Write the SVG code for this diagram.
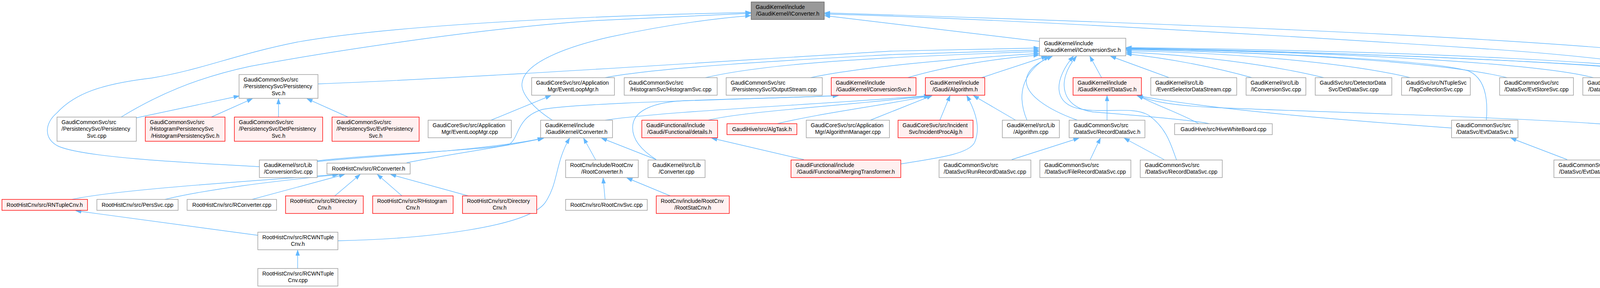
<svg xmlns="http://www.w3.org/2000/svg" width="4557" height="738" viewBox="0 0 4557 738">
<style>
rect{stroke-width:1.4}
.n rect{fill:#ffffff;stroke:#999999}
.r rect{fill:#FFF0F0;stroke:#FF0000}
.root rect{fill:#999999;stroke:#666666}
text{font-family:"Liberation Sans",Arial,sans-serif;font-size:14px;fill:#000000}
.m{text-anchor:middle}
#edges path{fill:none;stroke:#63B8FF;stroke-width:1.4;marker-end:url(#ah)}
</style>
<defs>
<marker id="ah" markerUnits="userSpaceOnUse" markerWidth="15" markerHeight="11" refX="14" refY="5" orient="auto" viewBox="0 0 15 11">
<path d="M0,0 L14,5 L0,10 z" fill="#63B8FF" stroke="#63B8FF" stroke-width="1"/>
</marker>
</defs>
<rect x="0" y="0" width="4557" height="738" fill="#ffffff"/>
<g id="edges">
<path d="M2661,106 L2111,40"/>
<path d="M4391,199 C4330,178 4100,145 3800,125 S2600,48 2111,36"/>
<path d="M4304,322 C4400,305 4555,270 4555,225 C4555,195 4540,185 4500,172 C4300,120 3500,75 2111,33"/>
<path d="M664,427 C500,418 220,405 150,375 C110,355 115,315 145,290 C190,240 260,215 388,200 C520,178 600,140 760,108 C1000,65 1500,40 1922,32"/>
<path d="M310,300 C400,245 500,200 640,170 C800,140 1200,75 1520,53 L1922,34"/>
<path d="M1414,308 C1370,280 1330,240 1337,210 C1345,160 1450,120 1560,95 C1700,65 1820,48 1922,40"/>
<path d="M814,215 C1200,200 1800,160 2280,131 L2660,123"/>
<path d="M1549,199 C1700,170 2100,150 2280,140 L2660,128"/>
<path d="M1806,199 C1950,165 2200,148 2660,132"/>
<path d="M2075,199 C2200,172 2450,150 2660,137"/>
<path d="M2324,199 C2420,170 2550,150 2660,141"/>
<path d="M2513,199 L2680,144"/>
<path d="M2629,308 C2605,250 2610,190 2686,144"/>
<path d="M2758,308 C2680,280 2620,240 2628,200 C2635,170 2670,155 2694,144"/>
<path d="M3012,410 C3000,380 2990,330 2940,295 C2900,272 2830,290 2770,280 C2690,268 2700,200 2748,144"/>
<path d="M3096,317 C3060,308 2900,295 2800,287 C2720,278 2700,210 2756,144"/>
<path d="M2820,199 L2790,144"/>
<path d="M2993,199 L2843,144"/>
<path d="M3205,199 C3120,175 3000,150 2883,138"/>
<path d="M3389,199 C3250,165 3050,140 2883,134"/>
<path d="M3610,199 C3450,160 3150,135 2883,130"/>
<path d="M3858,199 C3700,160 3300,135 2883,127"/>
<path d="M4079,199 C3950,165 3500,135 2883,125"/>
<path d="M4391,199 C4250,160 3600,130 2883,122"/>
<path d="M3805,308 C3810,250 3800,200 3760,182 C3650,150 3200,135 2883,126"/>
<path d="M4246,308 C4280,260 4290,205 4262,190 C4200,165 3500,135 2883,124"/>
<path d="M4165,416 C4250,395 4330,360 4343,300 C4350,250 4330,205 4290,190 C4200,165 3500,135 2883,123"/>
<path d="M349,302 L612,246"/>
<path d="M541,300 L646,253"/>
<path d="M713,300 L713,253"/>
<path d="M891,300 L786,253"/>
<path d="M1257,308 L1410,245"/>
<path d="M812,412 C950,395 1250,385 1303,370 C1330,355 1320,300 1390,280 C1500,262 1900,255 2146,245"/>
<path d="M1680,409 C1650,390 1615,360 1620,320 C1625,280 1680,262 1750,258 C1900,252 2050,250 2146,245"/>
<path d="M1549,308 C1700,285 2100,268 2379,245"/>
<path d="M1813,308 C1900,285 2200,268 2380,245"/>
<path d="M1990,317 C2100,290 2250,272 2382,245"/>
<path d="M2228,308 L2386,245"/>
<path d="M2406,308 L2432,245"/>
<path d="M2306,420 C2400,405 2480,395 2495,365 C2510,330 2500,290 2475,245"/>
<path d="M2600,308 L2492,245"/>
<path d="M2058,409 L1822,354"/>
<path d="M2834,308 L2834,245"/>
<path d="M4157,322 C3900,300 3300,285 3100,275 C3000,270 2950,260 2911,245"/>
<path d="M3716,328 C3400,305 3100,280 2911,245"/>
<path d="M3069,317 C3020,290 2960,270 2913,245"/>
<path d="M2590,409 L2762,354"/>
<path d="M2791,409 L2817,354"/>
<path d="M2980,409 L2878,354"/>
<path d="M4012,409 L3868,354"/>
<path d="M1041,417 C1150,395 1300,375 1392,354"/>
<path d="M812,414 C950,400 1250,385 1390,354"/>
<path d="M865,617 C1100,612 1350,580 1395,520 C1430,470 1420,420 1458,354"/>
<path d="M1525,410 L1494,354"/>
<path d="M1680,409 L1540,354"/>
<path d="M184,511 C300,485 700,460 865,447"/>
<path d="M422,511 C550,480 750,460 867,447"/>
<path d="M645,511 L882,447"/>
<path d="M857,502 L922,447"/>
<path d="M1029,502 L966,447"/>
<path d="M1199,502 L1000,447"/>
<path d="M660,603 L194,540"/>
<path d="M762,688 L762,641"/>
<path d="M1549,511 L1544,456"/>
<path d="M1716,502 L1605,456"/>
</g>
<g id="n1" class="root"><rect x="1923" y="5" width="187" height="45"/><text x="1934.5" y="23">GaudiKernel/include</text><text class="m" x="2016.5" y="40">/GaudiKernel/IConverter.h</text></g>
<g id="n2" class="n"><rect x="2661" y="98" width="221" height="45"/><text x="2672.5" y="116">GaudiKernel/include</text><text class="m" x="2771.5" y="133">/GaudiKernel/IConversionSvc.h</text></g>
<g id="n3" class="n"><rect x="612" y="191" width="202" height="61"/><text x="623.5" y="209">GaudiCommonSvc/src</text><text x="623.5" y="226">/PersistencySvc/Persistency</text><text class="m" x="713" y="243.5">Svc.h</text></g>
<g id="n4" class="n"><rect x="1361" y="199" width="212" height="45"/><text x="1372.5" y="217">GaudiCoreSvc/src/Application</text><text class="m" x="1467" y="234">Mgr/EventLoopMgr.h</text></g>
<g id="n5" class="n"><rect x="1598" y="199" width="238" height="45"/><text x="1609.5" y="217">GaudiCommonSvc/src</text><text class="m" x="1717" y="234">/HistogramSvc/HistogramSvc.cpp</text></g>
<g id="n6" class="n"><rect x="1859" y="199" width="246" height="45"/><text x="1870.5" y="217">GaudiCommonSvc/src</text><text class="m" x="1982" y="234">/PersistencySvc/OutputStream.cpp</text></g>
<g id="n7" class="r"><rect x="2128" y="199" width="217" height="45"/><text x="2139.5" y="217">GaudiKernel/include</text><text class="m" x="2236.5" y="234">/GaudiKernel/ConversionSvc.h</text></g>
<g id="n8" class="r"><rect x="2369" y="199" width="152" height="45"/><text x="2380.5" y="217">GaudiKernel/include</text><text class="m" x="2445" y="234">/Gaudi/Algorithm.h</text></g>
<g id="n9" class="r"><rect x="2747" y="199" width="175" height="45"/><text x="2758.5" y="217">GaudiKernel/include</text><text class="m" x="2834.5" y="234">/GaudiKernel/DataSvc.h</text></g>
<g id="n10" class="n"><rect x="2946" y="199" width="220" height="45"/><text x="2957.5" y="217">GaudiKernel/src/Lib</text><text class="m" x="3056" y="234">/EventSelectorDataStream.cpp</text></g>
<g id="n11" class="n"><rect x="3190" y="199" width="153" height="45"/><text x="3201.5" y="217">GaudiKernel/src/Lib</text><text class="m" x="3266.5" y="234">/IConversionSvc.cpp</text></g>
<g id="n12" class="n"><rect x="3367" y="199" width="196" height="45"/><text x="3378.5" y="217">GaudiSvc/src/DetectorData</text><text class="m" x="3465" y="234">Svc/DetDataSvc.cpp</text></g>
<g id="n13" class="n"><rect x="3588" y="199" width="176" height="45"/><text x="3599.5" y="217">GaudiSvc/src/NTupleSvc</text><text class="m" x="3676" y="234">/TagCollectionSvc.cpp</text></g>
<g id="n14" class="n"><rect x="3839" y="199" width="189" height="45"/><text x="3850.5" y="217">GaudiCommonSvc/src</text><text class="m" x="3933.5" y="234">/DataSvc/EvtStoreSvc.cpp</text></g>
<g id="n15" class="n"><rect x="4052" y="199" width="202" height="45"/><text x="4063.5" y="217">GaudiCommonSvc/src</text><text class="m" x="4153" y="234">/DataSvc/MultiStoreSvc.cpp</text></g>
<g id="n16" class="n"><rect x="4379" y="199" width="148" height="45"/><text x="4390.5" y="217">GaudiKernel/src/Lib</text><text class="m" x="4453" y="234">/TsDataSvc.cpp</text></g>
<g id="n17" class="n"><rect x="146" y="300" width="203" height="62"/><text x="157.5" y="318">GaudiCommonSvc/src</text><text x="157.5" y="335">/PersistencySvc/Persistency</text><text class="m" x="247.5" y="352.5">Svc.cpp</text></g>
<g id="n18" class="r"><rect x="372" y="300" width="204" height="62"/><text x="383.5" y="318">GaudiCommonSvc/src</text><text x="383.5" y="335">/HistogramPersistencySvc</text><text class="m" x="474" y="352.5">/HistogramPersistencySvc.h</text></g>
<g id="n19" class="r"><rect x="600" y="300" width="226" height="62"/><text x="611.5" y="318">GaudiCommonSvc/src</text><text x="611.5" y="335">/PersistencySvc/DetPersistency</text><text class="m" x="713" y="352.5">Svc.h</text></g>
<g id="n20" class="r"><rect x="850" y="300" width="223" height="62"/><text x="861.5" y="318">GaudiCommonSvc/src</text><text x="861.5" y="335">/PersistencySvc/EvtPersistency</text><text class="m" x="961.5" y="352.5">Svc.h</text></g>
<g id="n21" class="n"><rect x="1096" y="308" width="213" height="45"/><text x="1107.5" y="326">GaudiCoreSvc/src/Application</text><text class="m" x="1202.5" y="343">Mgr/EventLoopMgr.cpp</text></g>
<g id="n22" class="n"><rect x="1384" y="308" width="184" height="45"/><text x="1395.5" y="326">GaudiKernel/include</text><text class="m" x="1476" y="343">/GaudiKernel/Converter.h</text></g>
<g id="n23" class="r"><rect x="1643" y="308" width="194" height="45"/><text x="1654.5" y="326">GaudiFunctional/include</text><text class="m" x="1740" y="343">/Gaudi/Functional/details.h</text></g>
<g id="n24" class="r"><rect x="1861" y="317" width="179" height="28"/><text class="m" x="1950.5" y="335.5">GaudiHive/src/AlgTask.h</text></g>
<g id="n25" class="n"><rect x="2064" y="308" width="213" height="45"/><text x="2075.5" y="326">GaudiCoreSvc/src/Application</text><text class="m" x="2170.5" y="343">Mgr/AlgorithmManager.cpp</text></g>
<g id="n26" class="r"><rect x="2299" y="308" width="192" height="45"/><text x="2310.5" y="326">GaudiCoreSvc/src/Incident</text><text class="m" x="2395" y="343">Svc/IncidentProcAlg.h</text></g>
<g id="n27" class="n"><rect x="2566" y="308" width="146" height="45"/><text x="2577.5" y="326">GaudiKernel/src/Lib</text><text class="m" x="2639" y="343">/Algorithm.cpp</text></g>
<g id="n28" class="n"><rect x="2737" y="308" width="194" height="45"/><text x="2748.5" y="326">GaudiCommonSvc/src</text><text class="m" x="2834" y="343">/DataSvc/RecordDataSvc.h</text></g>
<g id="n29" class="n"><rect x="3007" y="317" width="250" height="28"/><text class="m" x="3132" y="335.5">GaudiHive/src/HiveWhiteBoard.cpp</text></g>
<g id="n30" class="n"><rect x="3716" y="308" width="170" height="45"/><text x="3727.5" y="326">GaudiCommonSvc/src</text><text class="m" x="3801" y="343">/DataSvc/EvtDataSvc.h</text></g>
<g id="n31" class="n"><rect x="4157" y="308" width="147" height="45"/><text x="4168.5" y="326">GaudiKernel/src/Lib</text><text class="m" x="4230.5" y="343">/DataSvc.cpp</text></g>
<g id="n32" class="n"><rect x="664" y="410" width="148" height="45"/><text x="675.5" y="428">GaudiKernel/src/Lib</text><text class="m" x="738" y="445">/ConversionSvc.cpp</text></g>
<g id="n33" class="n"><rect x="837" y="418" width="213" height="28"/><text class="m" x="943.5" y="436.5">RootHistCnv/src/RConverter.h</text></g>
<g id="n34" class="n"><rect x="1448" y="410" width="186" height="45"/><text x="1459.5" y="428">RootCnv/include/RootCnv</text><text class="m" x="1541" y="445">/RootConverter.h</text></g>
<g id="n35" class="n"><rect x="1659" y="410" width="146" height="45"/><text x="1670.5" y="428">GaudiKernel/src/Lib</text><text class="m" x="1732" y="445">/Converter.cpp</text></g>
<g id="n36" class="r"><rect x="2025" y="410" width="281" height="45"/><text x="2036.5" y="428">GaudiFunctional/include</text><text class="m" x="2165.5" y="445">/Gaudi/Functional/MergingTransformer.h</text></g>
<g id="n37" class="n"><rect x="2404" y="410" width="235" height="45"/><text x="2415.5" y="428">GaudiCommonSvc/src</text><text class="m" x="2521.5" y="445">/DataSvc/RunRecordDataSvc.cpp</text></g>
<g id="n38" class="n"><rect x="2662" y="410" width="233" height="45"/><text x="2673.5" y="428">GaudiCommonSvc/src</text><text class="m" x="2778.5" y="445">/DataSvc/FileRecordDataSvc.cpp</text></g>
<g id="n39" class="n"><rect x="2919" y="410" width="210" height="45"/><text x="2930.5" y="428">GaudiCommonSvc/src</text><text class="m" x="3024" y="445">/DataSvc/RecordDataSvc.cpp</text></g>
<g id="n40" class="n"><rect x="3978" y="410" width="187" height="45"/><text x="3989.5" y="428">GaudiCommonSvc/src</text><text class="m" x="4071.5" y="445">/DataSvc/EvtDataSvc.cpp</text></g>
<g id="n41" class="r"><rect x="5" y="511" width="219" height="28"/><text class="m" x="114.5" y="529.5">RootHistCnv/src/RNTupleCnv.h</text></g>
<g id="n42" class="n"><rect x="248" y="511" width="208" height="28"/><text class="m" x="352" y="529.5">RootHistCnv/src/PersSvc.cpp</text></g>
<g id="n43" class="n"><rect x="479" y="511" width="229" height="28"/><text class="m" x="593.5" y="529.5">RootHistCnv/src/RConverter.cpp</text></g>
<g id="n44" class="r"><rect x="731" y="502" width="199" height="45"/><text x="742.5" y="520">RootHistCnv/src/RDirectory</text><text class="m" x="830.5" y="537">Cnv.h</text></g>
<g id="n45" class="r"><rect x="954" y="502" width="206" height="45"/><text x="965.5" y="520">RootHistCnv/src/RHistogram</text><text class="m" x="1057" y="537">Cnv.h</text></g>
<g id="n46" class="r"><rect x="1184" y="502" width="190" height="45"/><text x="1195.5" y="520">RootHistCnv/src/Directory</text><text class="m" x="1279" y="537">Cnv.h</text></g>
<g id="n47" class="n"><rect x="1448" y="511" width="209" height="28"/><text class="m" x="1552.5" y="529.5">RootCnv/src/RootCnvSvc.cpp</text></g>
<g id="n48" class="r"><rect x="1680" y="502" width="187" height="45"/><text x="1691.5" y="520">RootCnv/include/RootCnv</text><text class="m" x="1773.5" y="537">/RootStatCnv.h</text></g>
<g id="n49" class="n"><rect x="660" y="595" width="205" height="45"/><text x="671.5" y="613">RootHistCnv/src/RCWNTuple</text><text class="m" x="762.5" y="630">Cnv.h</text></g>
<g id="n50" class="n"><rect x="660" y="688" width="205" height="45"/><text x="671.5" y="706">RootHistCnv/src/RCWNTuple</text><text class="m" x="762.5" y="723">Cnv.cpp</text></g>
</svg>
